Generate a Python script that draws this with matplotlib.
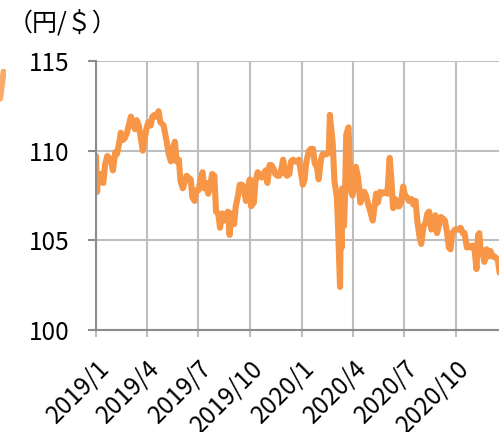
import matplotlib
matplotlib.use("Agg")
import matplotlib.pyplot as plt
import pandas as pd

plt.rcParams["font.family"] = ["Noto Sans CJK JP", "DejaVu Sans"]

# USD/JPY
dates_2019 = [
    "01-01", "01-03", "01-04", "01-08", "01-10", "01-14", "01-17", "01-21", "01-24", "01-28",
    "01-31", "02-04", "02-07", "02-11", "02-14", "02-18", "02-21", "02-25", "02-28", "03-04",
    "03-07", "03-11", "03-14", "03-18", "03-21", "03-25", "03-28", "04-01", "04-04", "04-08",
    "04-11", "04-15", "04-18", "04-22", "04-25", "05-01", "05-07", "05-10", "05-14", "05-17",
    "05-21", "05-24", "05-28", "05-31", "06-04", "06-07", "06-11", "06-14", "06-18", "06-21",
    "06-25", "06-28", "07-02", "07-05", "07-09", "07-12", "07-16", "07-19", "07-23", "07-26",
    "07-30", "08-02", "08-06", "08-09", "08-13", "08-16", "08-20", "08-23", "08-26", "08-29",
    "09-03", "09-06", "09-10", "09-13", "09-17", "09-20", "09-24", "09-27", "10-01", "10-03",
    "10-08", "10-11", "10-15", "10-18", "10-22", "10-25", "10-29", "11-01", "11-05", "11-08",
    "11-12", "11-15", "11-19", "11-22", "11-26", "11-29", "12-03", "12-06", "12-10", "12-13",
    "12-17", "12-20", "12-24", "12-27", "12-31",
]
rates_2019 = [
    109.7, 107.7, 108.5, 108.7, 108.3, 108.2, 109.2, 109.7, 109.6, 109.4,
    108.9, 109.9, 109.8, 110.4, 111.0, 110.6, 110.7, 111.0, 111.4, 111.9,
    111.6, 111.2, 111.7, 111.4, 110.8, 110.0, 110.6, 111.3, 111.6, 111.4,
    111.9, 112.0, 111.9, 112.2, 111.6, 111.4, 110.4, 109.8, 109.4, 110.1,
    110.5, 109.4, 109.5, 108.3, 107.9, 108.2, 108.6, 108.5, 108.4, 107.4,
    107.2, 107.8, 107.8, 108.3, 108.8, 107.9, 108.2, 107.6, 108.1, 108.7,
    108.6, 106.6, 106.5, 105.7, 106.5, 106.1, 106.4, 106.6, 105.3, 106.5,
    105.9, 106.9, 107.5, 108.1, 108.1, 107.9, 107.2, 107.9, 108.4, 106.9,
    107.1, 108.3, 108.8, 108.6, 108.5, 108.7, 108.9, 108.2, 109.2, 109.2,
    109.0, 108.7, 108.6, 108.6, 109.0, 109.5, 108.7, 108.6, 108.7, 109.4,
    109.5, 109.4, 109.4, 109.5, 108.7,
]
dates_2020 = [
    "01-03", "01-06", "01-08", "01-10", "01-14", "01-17", "01-21", "01-24", "01-28", "01-31",
    "02-04", "02-07", "02-11", "02-14", "02-18", "02-20", "02-21", "02-25", "02-28", "03-03",
    "03-05", "03-09", "03-10", "03-12", "03-13", "03-16", "03-18", "03-20", "03-24", "03-26",
    "03-27", "03-31", "04-02", "04-06", "04-08", "04-10", "04-14", "04-17", "04-21", "04-24",
    "04-28", "05-01", "05-06", "05-08", "05-12", "05-15", "05-19", "05-22", "05-27", "06-01",
    "06-05", "06-08", "06-11", "06-15", "06-18", "06-22", "06-25", "06-29", "07-02", "07-06",
    "07-09", "07-14", "07-17", "07-21", "07-24", "07-28", "07-31", "08-04", "08-07", "08-11",
    "08-14", "08-18", "08-21", "08-25", "08-28", "09-01", "09-04", "09-08", "09-11", "09-15",
    "09-18", "09-21", "09-24", "09-29", "10-01", "10-06", "10-09", "10-13", "10-16", "10-20",
    "10-23", "10-27", "10-30", "11-02", "11-06", "11-09", "11-11", "11-13", "11-17", "11-20",
    "11-24", "11-27", "12-01", "12-04", "12-08", "12-11", "12-14", "12-17",
]
rates_2020 = [
    108.1, 108.4, 109.1, 109.5, 110.0, 110.1, 110.1, 109.3, 109.1, 108.4,
    109.5, 109.8, 109.8, 109.8, 109.9, 112.0, 111.6, 110.4, 108.3, 107.5,
    106.2, 102.4, 105.5, 104.6, 107.9, 105.8, 107.7, 110.9, 111.3, 109.5,
    107.9, 107.5, 107.9, 109.1, 108.8, 108.5, 107.1, 107.7, 107.7, 107.5,
    107.0, 106.7, 106.1, 106.6, 107.6, 107.1, 107.7, 107.6, 107.7, 107.6,
    109.6, 108.4, 106.8, 107.3, 106.9, 106.9, 107.1, 108.0, 107.5, 107.4,
    107.2, 107.3, 107.0, 107.2, 106.1, 105.2, 104.8, 105.8, 105.9, 106.5,
    106.6, 105.6, 105.8, 106.4, 105.4, 105.9, 106.3, 106.2, 106.1, 105.4,
    104.6, 104.5, 105.4, 105.6, 105.6, 105.6, 105.7, 105.4, 105.4, 104.6,
    104.7, 104.6, 104.7, 104.7, 103.4, 105.3, 105.4, 104.6, 104.3, 103.8,
    104.5, 104.1, 104.4, 104.1, 104.1, 104.0, 103.9, 103.2,
]

dates = pd.to_datetime(["2019-" + d for d in dates_2019] + ["2020-" + d for d in dates_2020])
rates = rates_2019 + rates_2020

tick_dates = pd.to_datetime(["2019-01-01", "2019-04-01", "2019-07-01", "2019-10-01",
                             "2020-01-01", "2020-04-01", "2020-07-01", "2020-10-01"])
tick_labels = ["2019/1", "2019/4", "2019/7", "2019/10", "2020/1", "2020/4", "2020/7", "2020/10"]
y_ticks = [100, 105, 110, 115]

# bit of the neighbouring chart's line that shows at the left edge
edge_x = [0.0, 0.6]
edge_vals = [112.9, 114.4]

orange = "#F79646"
grid_c = "#BFBFBF"
axis_c = "#8C8C8C"

fig = plt.figure(figsize=(4.99, 4.32), dpi=100)
ax = fig.add_axes([96 / 499, 102 / 432, 1 - 96 / 499, 269 / 432])

ax.plot(dates, rates, color=orange, lw=4.4, solid_joinstyle="round", solid_capstyle="round")

ax.set_xlim(pd.Timestamp("2019-01-01"), pd.Timestamp("2020-12-16"))
ax.set_ylim(100, 115)
ax.set_xticks(tick_dates)
ax.set_xticklabels(tick_labels, rotation=45, ha="right", rotation_mode="anchor")
ax.set_yticks(y_ticks)

ax.grid(True, color=grid_c, lw=1.5)
ax.set_axisbelow(True)
for s in ["top", "right"]:
    ax.spines[s].set_visible(False)
for s in ["left", "bottom"]:
    ax.spines[s].set_color(axis_c)
    ax.spines[s].set_linewidth(1.5)
ax.tick_params(axis="x", length=5, width=1.5, color=grid_c, labelsize=17.5, pad=13)
ax.tick_params(axis="y", length=6, width=1.5, color=axis_c, labelsize=17.5, pad=13)

# left-edge fragment
ax_e = fig.add_axes([0, 102 / 432, 6 / 499, 269 / 432])
ax_e.plot(edge_x, edge_vals, color=orange, lw=4.4, solid_capstyle="round", alpha=0.8)
ax_e.set_xlim(0, 1)
ax_e.set_ylim(100, 115)
ax_e.axis("off")

fig.text(8 / 499, 1 - 24 / 432, "（円/＄）", fontsize=18, va="center", ha="left")

fig.savefig("out.png", dpi=100)
